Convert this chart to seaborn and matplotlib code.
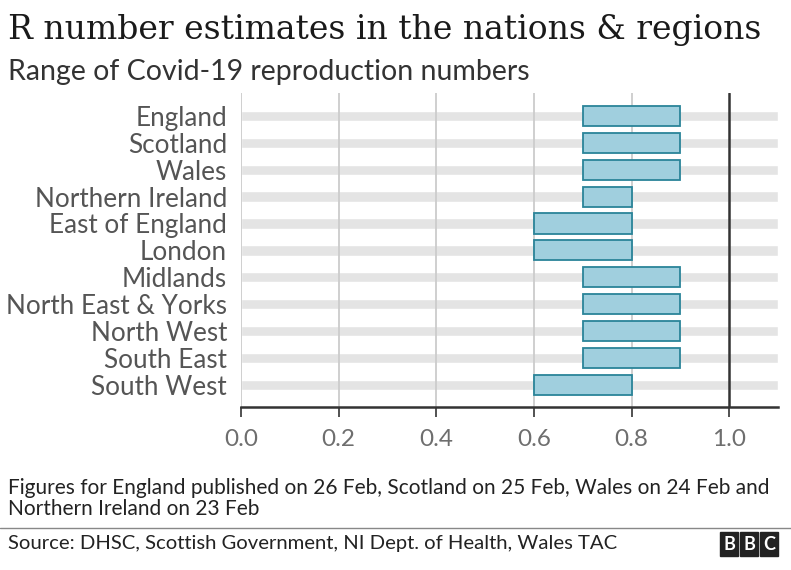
import matplotlib
matplotlib.use("Agg")
import matplotlib.pyplot as plt
import seaborn as sns
import pandas as pd

# Data
regions = ["England", "Scotland", "Wales", "Northern Ireland", "East of England",
           "London", "Midlands", "North East & Yorks", "North West",
           "South East", "South West"]
r_low = [0.7, 0.7, 0.7, 0.7, 0.6, 0.6, 0.7, 0.7, 0.7, 0.7, 0.6]
r_high = [0.9, 0.9, 0.9, 0.8, 0.8, 0.8, 0.9, 0.9, 0.9, 0.9, 0.8]
x_ticks = [0.0, 0.2, 0.4, 0.6, 0.8, 1.0]
x_max = 1.1

df = pd.DataFrame({"region": regions, "low": r_low, "high": r_high})
df["width"] = df["high"] - df["low"]
df["band"] = x_max

sns.set_theme(style="white")
plt.rcParams["font.family"] = ["Lato", "DejaVu Sans"]

fig = plt.figure(figsize=(7.91, 5.70), dpi=100)
ax = fig.add_axes([241 / 791, 1 - 407 / 570, 537 / 791, 314 / 570])

# grey background bands
sns.barplot(data=df, x="band", y="region", orient="h", color="#e4e4e4",
            width=0.38, ax=ax, zorder=1)

# vertical grid lines
for t in x_ticks[:-1]:
    ax.axvline(t, color="#cccccc", lw=1.3, zorder=2)

# range bars
ax.barh(df["region"], df["width"], left=df["low"], height=0.75,
        color="#a0cfde", edgecolor="#2a8499", linewidth=1.3, zorder=3)

# R = 1 reference line
ax.axvline(1.0, color="#333333", lw=1.8, zorder=4)

ax.set_xlim(0, x_max)
ax.set_ylim(len(regions) - 1 + 0.82, -0.85)
ax.set_xlabel("")
ax.set_ylabel("")
ax.set_xticks(x_ticks)
ax.set_xticklabels([f"{t:.1f}" for t in x_ticks])
ax.tick_params(axis="x", colors="#333333", labelcolor="#6e6e6e", labelsize=17.5,
               length=7, width=1.2, direction="out", pad=9, bottom=True)
ax.tick_params(axis="y", labelcolor="#555555", labelsize=18.8, length=0, pad=10)
for s in ["top", "right", "left"]:
    ax.spines[s].set_visible(False)
ax.spines["bottom"].set_color("#333333")
ax.spines["bottom"].set_linewidth(1.8)

# titles
fig.text(8 / 791, 1 - 30 / 570, "R number estimates in the nations & regions",
         family=["DejaVu Serif"], fontsize=23.8, color="#1a1a1a", va="center")
fig.text(8 / 791, 1 - 72 / 570, "Range of Covid-19 reproduction numbers",
         fontsize=20.5, color="#333333", va="center")

# footnote
fig.text(8 / 791, 1 - 488 / 570,
         "Figures for England published on 26 Feb, Scotland on 25 Feb, Wales on 24 Feb and",
         fontsize=15, color="#222222", va="center")
fig.text(8 / 791, 1 - 509 / 570, "Northern Ireland on 23 Feb",
         fontsize=15, color="#222222", va="center")
fig.add_artist(plt.Line2D([0, 1], [1 - 528 / 570] * 2, color="#888888", lw=1))
fig.text(8 / 791, 1 - 544 / 570,
         "Source: DHSC, Scottish Government, NI Dept. of Health, Wales TAC",
         fontsize=14.6, color="#222222", va="center")

# BBC blocks
for i, letter in enumerate("BBC"):
    x0 = (720 + i * 20) / 791
    fig.patches.append(plt.Rectangle((x0, 1 - 556 / 570), 18 / 791, 24 / 570,
                                     transform=fig.transFigure, color="#222222"))
    fig.text(x0 + 9 / 791, 1 - 544 / 570, letter, color="white", fontsize=13,
             fontweight="bold", ha="center", va="center")

fig.savefig("out.png", dpi=100)
